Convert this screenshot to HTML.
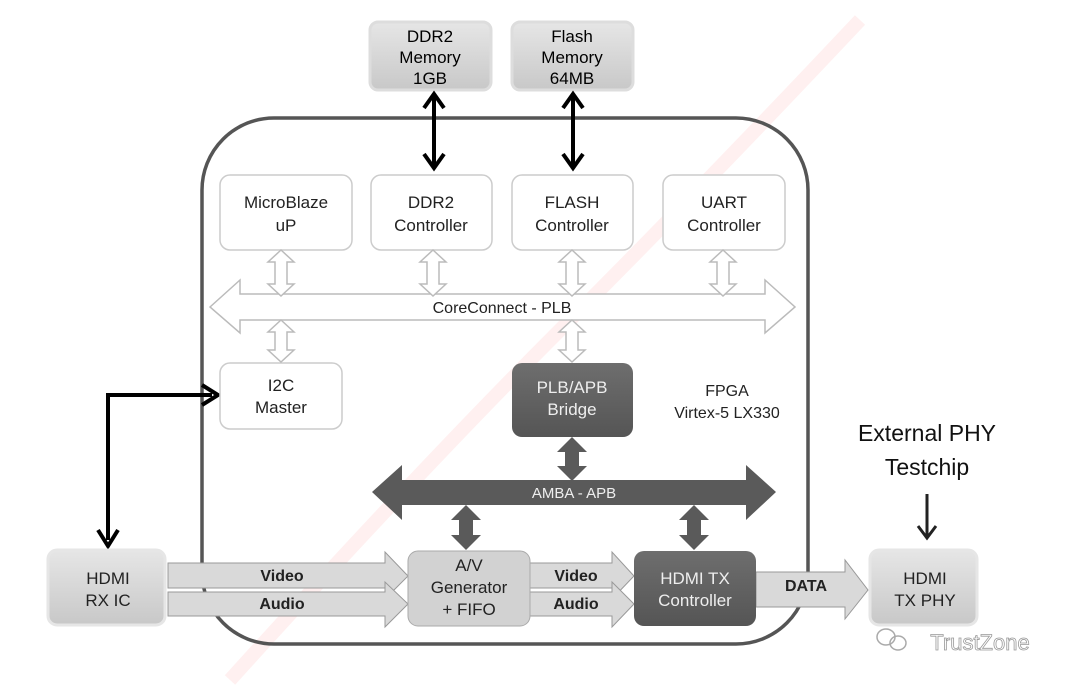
<!DOCTYPE html>
<html><head><meta charset="utf-8"><style>
body{margin:0;background:#fff}
svg{display:block}
text{font-family:"Liberation Sans",sans-serif;text-anchor:middle}
</style></head><body>
<svg width="1078" height="685" viewBox="0 0 1078 685" xmlns="http://www.w3.org/2000/svg">
<defs>
<linearGradient id="g1" x1="0" y1="0" x2="0" y2="1"><stop offset="0" stop-color="#e6e6e6"/><stop offset="1" stop-color="#c8c8c8"/></linearGradient>
<linearGradient id="dk" x1="0" y1="0" x2="0" y2="1"><stop offset="0" stop-color="#6e6e6e"/><stop offset="1" stop-color="#555"/></linearGradient>
</defs>
<!-- watermark -->
<g fill="none" stroke="#fff0f0" stroke-width="14">
<path d="M230 680 Q420 470 560 330 T860 20"/>
</g>
<!-- FPGA outline -->
<rect x="202" y="118" width="606" height="526" rx="72" fill="none" stroke="#555" stroke-width="3.5"/>

<!-- memories -->
<rect x="370" y="22" width="121" height="68" rx="8" fill="url(#g1)" stroke="#ddd" stroke-width="3"/>
<text x="430" y="42" font-size="17">DDR2</text><text x="430" y="63" font-size="17">Memory</text><text x="430" y="84" font-size="17">1GB</text>
<rect x="512" y="22" width="121" height="68" rx="8" fill="url(#g1)" stroke="#ddd" stroke-width="3"/>
<text x="572" y="42" font-size="17">Flash</text><text x="572" y="63" font-size="17">Memory</text><text x="572" y="84" font-size="17">64MB</text>

<!-- black double arrows -->
<g stroke="#000" stroke-width="4" fill="none">
<line x1="434" y1="96" x2="434" y2="166"/><polyline points="424,108 434,94 444,108"/><polyline points="424,154 434,168 444,154"/>
<line x1="573" y1="96" x2="573" y2="166"/><polyline points="563,108 573,94 583,108"/><polyline points="563,154 573,168 583,154"/>
<polyline points="108,540 108,395 212,395"/><polyline points="98,530 108,546 118,530"/><polyline points="202,385 218,395 202,405"/>
</g>
<g stroke="#222" stroke-width="3" fill="none">
<line x1="927" y1="494" x2="927" y2="536"/><polyline points="918,526 927,538 936,526"/>
</g>

<!-- top controllers -->
<g fill="#fff" stroke="#ccc" stroke-width="1.5">
<rect x="220" y="175" width="132" height="75" rx="10"/>
<rect x="371" y="175" width="121" height="75" rx="10"/>
<rect x="512" y="175" width="121" height="75" rx="10"/>
<rect x="663" y="175" width="122" height="75" rx="10"/>
<rect x="220" y="363" width="122" height="66" rx="10"/>
</g>
<g font-size="17" fill="#222">
<text x="286" y="208">MicroBlaze</text><text x="286" y="231">uP</text>
<text x="431" y="208">DDR2</text><text x="431" y="231">Controller</text>
<text x="572" y="208">FLASH</text><text x="572" y="231">Controller</text>
<text x="724" y="208">UART</text><text x="724" y="231">Controller</text>
<text x="281" y="391">I2C</text><text x="281" y="413">Master</text>
</g>

<!-- PLB bus -->
<g fill="#fff" stroke="#bbb" stroke-width="1.5">
<polygon points="210,307 240,280 240,294 765,294 765,280 795,307 765,333 765,320 240,320 240,333"/>
<polygon points="281,250 294,262 287,262 287,284 294,284 281,296 268,284 275,284 275,262 268,262"/>
<polygon points="433,250 446,262 439,262 439,284 446,284 433,296 420,284 427,284 427,262 420,262"/>
<polygon points="572,250 585,262 578,262 578,284 585,284 572,296 559,284 566,284 566,262 559,262"/>
<polygon points="723,250 736,262 729,262 729,284 736,284 723,296 710,284 717,284 717,262 710,262"/>
<polygon points="281,320 294,332 287,332 287,350 294,350 281,362 268,350 275,350 275,332 268,332"/>
<polygon points="572,320 585,332 578,332 578,350 585,350 572,362 559,350 566,350 566,332 559,332"/>
</g>
<text x="502" y="313" font-size="16" fill="#222">CoreConnect - PLB</text>

<!-- bridge -->
<rect x="512" y="363" width="121" height="74" rx="10" fill="url(#dk)"/>
<text x="572" y="393" font-size="17" fill="#eee">PLB/APB</text><text x="572" y="415" font-size="17" fill="#eee">Bridge</text>
<text x="727" y="396" font-size="16" fill="#222">FPGA</text><text x="727" y="418" font-size="16" fill="#222">Virtex-5 LX330</text>

<!-- AMBA -->
<g fill="#5a5a5a">
<polygon points="372,492 402,465 402,480 746,480 746,465 776,492 746,520 746,505 402,505 402,520"/>
<polygon points="572,437 587,452 579,452 579,466 587,466 572,481 557,466 565,466 565,452 557,452"/>
<polygon points="466,505 481,520 473,520 473,535 481,535 466,550 451,535 459,535 459,520 451,520"/>
<polygon points="694,505 709,520 701,520 701,535 709,535 694,550 679,535 687,535 687,520 679,520"/>
</g>
<text x="574" y="498" font-size="15" fill="#eee">AMBA - APB</text>

<!-- data arrows -->
<g fill="#d9d9d9" stroke="#999" stroke-width="1">
<polygon points="168,563 385,563 385,552 408,576 385,599 385,588 168,588"/>
<polygon points="168,592 385,592 385,582 408,604 385,627 385,616 168,616"/>
<polygon points="530,563 612,563 612,552 634,576 612,599 612,588 530,588"/>
<polygon points="530,592 612,592 612,582 634,604 612,627 612,616 530,616"/>
<polygon points="756,572 845,572 845,560 868,590 845,619 845,607 756,607"/>
</g>
<g font-size="16" font-weight="bold" fill="#222">
<text x="282" y="581">Video</text><text x="282" y="609">Audio</text>
<text x="576" y="581">Video</text><text x="576" y="609">Audio</text>
<text x="806" y="591">DATA</text>
</g>

<!-- bottom boxes -->
<rect x="48" y="550" width="117" height="75" rx="9" fill="url(#g1)" stroke="#e6e6e6" stroke-width="3"/>
<text x="108" y="584" font-size="17" fill="#222">HDMI</text><text x="108" y="606" font-size="17" fill="#222">RX IC</text>
<rect x="408" y="551" width="122" height="75" rx="10" fill="#d2d2d2" stroke="#aaa" stroke-width="1"/>
<text x="469" y="571" font-size="17" fill="#222">A/V</text><text x="469" y="593" font-size="17" fill="#222">Generator</text><text x="469" y="615" font-size="17" fill="#222">+ FIFO</text>
<rect x="634" y="551" width="122" height="75" rx="10" fill="url(#dk)"/>
<text x="695" y="584" font-size="17" fill="#eee">HDMI TX</text><text x="695" y="606" font-size="17" fill="#eee">Controller</text>
<rect x="870" y="550" width="107" height="75" rx="9" fill="url(#g1)" stroke="#e6e6e6" stroke-width="3"/>
<text x="925" y="584" font-size="17" fill="#222">HDMI</text><text x="925" y="606" font-size="17" fill="#222">TX  PHY</text>

<text x="927" y="441" font-size="23" fill="#111">External PHY</text>
<text x="927" y="475" font-size="23" fill="#111">Testchip</text>

<!-- trustzone watermark -->
<g fill="none" stroke="#aaa" stroke-width="1.5"><ellipse cx="886" cy="637" rx="9" ry="8"/><ellipse cx="898" cy="643" rx="8" ry="7"/></g>
<text x="980" y="650" font-size="22" fill="#fff" stroke="#999" stroke-width="0.8">TrustZone</text>
</svg>
</body></html>
